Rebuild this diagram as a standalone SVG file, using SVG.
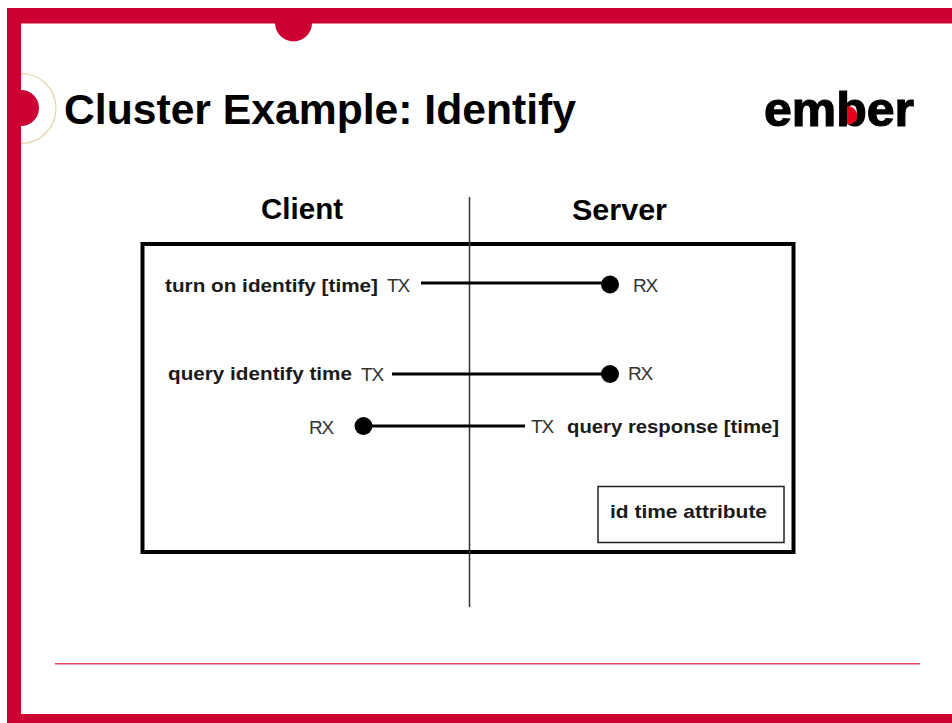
<svg xmlns="http://www.w3.org/2000/svg" width="952" height="723" viewBox="0 0 952 723">
<style>
.f{font-family:"Liberation Sans",Arial,sans-serif;fill:#000}
.b{font-weight:bold;font-size:19px;fill:#1a1a1a}
.r{font-size:19px;fill:#333;letter-spacing:-1.2px}
.h{font-weight:bold;font-size:29px}
.w{stroke:#000;stroke-width:3;fill:none}
</style>
<rect width="952" height="723" fill="#fff"/>
<g id="frame" fill="#cc0033">
<rect x="7" y="8" width="945" height="15.500"/>
<rect x="7" y="8" width="14" height="715"/>
<rect x="7" y="714" width="945" height="9"/>
<path d="M275 23 A18.500 18.500 0 0 0 312 23 Z"/>
<path d="M21 90 A18 18 0 0 1 21 126 Z"/>
<path d="M21 73.500 A35 35 0 0 1 21 143.500" fill="none" stroke="#e4d3a8" stroke-width="1.200"/>
<rect x="55" y="663" width="865" height="1.500" fill="#e0405f"/>
</g>
<g id="title"><text class="f" x="64" y="124" font-size="42" font-weight="bold" textLength="512" lengthAdjust="spacingAndGlyphs">Cluster Example: Identify</text></g>
<g id="logo"><text class="f" x="764" y="126" font-size="49" font-weight="bold" stroke="#000" stroke-width="1.200" textLength="150" lengthAdjust="spacingAndGlyphs">ember</text>
<path d="M847 106 C855 106 858 113 857 117 C857 122 852 125 847 124 Z" fill="#e8001c"/></g>
<g id="client"><text class="f h" x="261" y="219" textLength="82" lengthAdjust="spacingAndGlyphs">Client</text></g>
<g id="server"><text class="f h" x="572" y="220" textLength="95" lengthAdjust="spacingAndGlyphs">Server</text></g>
<g id="cluster-box"><rect x="142.500" y="244" width="651" height="308" fill="none" stroke="#000" stroke-width="4"/></g>
<g id="attr-box"><rect x="598" y="486.500" width="186" height="56" fill="#fff" stroke="#222" stroke-width="1.500"/>
<text class="f b" x="610" y="518" textLength="157" lengthAdjust="spacingAndGlyphs">id time attribute</text></g>
<g id="connectors">
<line x1="469.500" y1="197" x2="469.500" y2="607" stroke="#333" stroke-width="1.500"/>
<line x1="421" y1="283" x2="610" y2="283" class="w"/>
<circle cx="610" cy="284.500" r="9"/>
<line x1="392" y1="374" x2="610" y2="374" class="w"/>
<circle cx="610" cy="374" r="9"/>
<line x1="363" y1="426" x2="525" y2="426" class="w"/>
<circle cx="363.500" cy="426" r="9"/>
</g>
<g id="labels">
<text class="f b" x="165" y="292" textLength="213" lengthAdjust="spacingAndGlyphs">turn on identify [time]</text>
<text class="f r" x="387" y="292">TX</text>
<text class="f r" x="633" y="292">RX</text>
<text class="f b" x="168" y="380" textLength="184" lengthAdjust="spacingAndGlyphs">query identify time</text>
<text class="f r" x="361" y="381">TX</text>
<text class="f r" x="628" y="380">RX</text>
<text class="f r" x="309" y="434">RX</text>
<text class="f r" x="531" y="433">TX</text>
<text class="f b" x="567" y="433" textLength="212" lengthAdjust="spacingAndGlyphs">query response [time]</text>
</g>
</svg>
